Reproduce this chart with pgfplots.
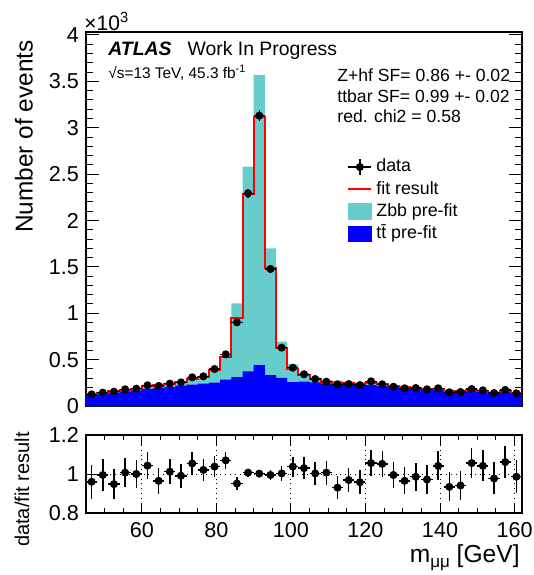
\documentclass[border=0pt]{standalone}
\usepackage{fontspec}
\setmainfont{Liberation Sans}
\usepackage{pgfplots}
\pgfplotsset{compat=1.18}
\usepackage{pgfplotstable}

\definecolor{zbb}{RGB}{102,204,204}
\definecolor{ttb}{RGB}{0,0,255}

% bin lower edge, post-fit total, pre-fit stack (Zbb+ttbar), ttbar pre-fit
\pgfplotstableread{
lo  fit  tot  tt
45  131  128  118
48  145  142  132
51  160  157  145
54  176  171  158
57  187  182  168
60  212  204  185
63  222  217  195
66  238  234  205
69  257  258  220
72  293  300  230
75  313  318  240
78  384  395  252
81  525  540  285
84  950  1107 310
87  2282 2580 374
90  3119 3569 442
93  1491 1700 334
96  630  693  302
99  400  450  258
102 335  352  262
105 290  305  255
108 264  280  245
111 253  273  237
114 247  262  237
117 240  252  230
120 248  258  226
123 232  240  215
126 212  225  205
129 200  212  195
132 197  205  190
135 186  196  182
138 183  190  178
141 162  172  162
144 161  170  160
147 172  175  165
150 163  170  160
153 145  157  148
156 161  160  150
159 140  150  142
162 140  150  142
}\hist

% bin centre, data, stat. error, data/fit, its error
\pgfplotstableread{
x     d    ed   r     er
46.5  126  11.2 0.960 0.086
49.5  144  12.0 0.995 0.083
52.5  155  12.4 0.948 0.078
55.5  180  13.4 1.007 0.076
58.5  187  13.7 1.000 0.073
61.5  223  14.9 1.043 0.070
64.5  216  14.7 0.965 0.066
67.5  241  15.5 1.012 0.065
70.5  255  16.0 0.991 0.062
73.5  309  17.6 1.054 0.060
76.5  320  17.9 1.021 0.057
79.5  399  20.0 1.038 0.052
82.5  557  23.6 1.070 0.045
85.5  902  30.0 0.951 0.032
88.5  2293 47.9 1.007 0.021
91.5  3130 55.9 1.002 0.018
94.5  1477 38.4 0.995 0.026
97.5  629  25.1 1.003 0.040
100.5 413  20.3 1.038 0.051
103.5 342  18.5 1.030 0.055
106.5 291  17.1 1.003 0.059
109.5 262  16.2 1.007 0.061
112.5 234  15.3 0.930 0.060
115.5 237  15.4 0.969 0.062
118.5 226  15.0 0.958 0.063
121.5 266  16.3 1.056 0.066
124.5 234  15.3 1.052 0.066
127.5 208  14.4 0.995 0.068
130.5 191  13.8 0.965 0.069
133.5 194  13.9 0.986 0.071
136.5 180  13.4 0.972 0.072
139.5 191  13.8 1.042 0.075
142.5 148  12.2 0.934 0.075
145.5 151  12.3 0.941 0.076
148.5 183  13.5 1.056 0.079
151.5 169  13.0 1.042 0.080
154.5 140  11.8 0.977 0.082
157.5 173  13.2 1.061 0.082
160.5 137  11.7 0.986 0.084
}\pts

\pgfplotsset{
  frame/.style={
    scale only axis, width=218pt,
    xmin=45, xmax=162,
    tick align=inside,
    axis line style={line width=0.6pt},
    every tick/.style={black, line width=0.5pt},
    /pgf/number format/assume math mode=true,
  },
}

\begin{document}
\begin{tikzpicture}
\useasboundingbox (-43pt,-84.5pt) rectangle (224pt,203pt);

\begin{axis}[frame,
  at={(0,0)}, anchor=south west,
  height=187pt,
  ymin=0, ymax=4032,
  xtick={60,80,...,160}, xticklabels={},
  minor xtick={50,55,...,160},
  xtick pos=bottom,
  ytick={0,500,...,4000},
  yticklabels={0,0.5,1,1.5,2,2.5,3,3.5,4},
  minor ytick={100,200,...,4000},
  ytick pos=both,
  major tick length=6.5pt, minor tick length=3.5pt,
  yticklabel style={font=\fontsize{10.8}{12}\selectfont},
  legend style={at={(rel axis cs:0.5986,0.667)}, anchor=north west,
    draw=none, fill=none, inner sep=0pt,
    font=\fontsize{8.9}{10}\selectfont,
    nodes={inner sep=1pt, text height=6.5pt, text depth=1.6pt},
    row sep=1pt, column sep=1pt},
  legend cell align=left,
]
\addplot[const plot, fill=zbb, draw=none, forget plot] table[x=lo, y=tot] {\hist} \closedcycle;
\addplot[const plot, fill=ttb, draw=none, forget plot] table[x=lo, y=tt] {\hist} \closedcycle;
\addplot[const plot, red, line width=1pt, forget plot] table[x=lo, y=fit] {\hist};
\addplot[black, only marks, mark=*, mark size=1.8pt, forget plot,
  error bars/.cd, x dir=both, x fixed=1.5, y dir=both, y explicit,
  error mark=none, error bar style={line width=0.75pt}]
  table[x=x, y=d, y error=ed] {\pts};

\addlegendimage{legend image code/.code={
  \draw[black, line width=0.75pt] (0pt,0pt) -- (11.5pt,0pt);
  \draw[black, line width=0.75pt] (5.75pt,-4pt) -- (5.75pt,4pt);
  \fill[black] (5.75pt,0pt) circle (1.8pt);}}
\addlegendentry{data}
\addlegendimage{legend image code/.code={
  \draw[red, line width=1pt] (0pt,0pt) -- (11.5pt,0pt);}}
\addlegendentry{fit result}
\addlegendimage{legend image code/.code={
  \fill[zbb] (0pt,-3.8pt) rectangle (11.5pt,3.8pt);}}
\addlegendentry{Zbb pre-fit}
\addlegendimage{legend image code/.code={
  \fill[ttb] (0pt,-3.8pt) rectangle (11.5pt,3.8pt);}}
\addlegendentry{t\=t pre-fit}
\end{axis}

\begin{axis}[frame,
  at={(0,-14.5pt)}, anchor=north west,
  height=39pt,
  ymin=0.8, ymax=1.2,
  xtick={60,80,...,160},
  minor xtick={50,55,...,160},
  xtick pos=both,
  ytick={0.8,1.2},
  extra y ticks={1},
  extra y tick style={grid=major},
  ytick pos=left,
  xmajorgrids,
  major grid style={black, dotted, line width=0.5pt},
  major tick length=5pt, minor tick length=2.5pt,
  tick label style={font=\fontsize{10.8}{12}\selectfont},
  xticklabel style={yshift=-1pt},
]
\addplot[black, only marks, mark=*, mark size=1.8pt,
  error bars/.cd, x dir=both, x fixed=1.5, y dir=both, y explicit,
  error mark=none, error bar style={line width=0.75pt}]
  table[x=x, y=r, y error=er] {\pts};
\end{axis}

% labels and annotations
\node[anchor=base west, inner sep=0pt, font=\fontsize{10.5}{12}\selectfont] at (-1pt,188pt) {×10\textsuperscript{3}};
\node[anchor=east, rotate=90, inner sep=0pt, font=\fontsize{12.2}{14}\selectfont] at (-31pt,183pt) {Number of events};
\node[anchor=east, rotate=90, inner sep=0pt, font=\fontsize{10}{12}\selectfont] at (-32pt,-13pt) {data/fit result};
\node[anchor=base east, inner sep=0pt, font=\fontsize{12.3}{14}\selectfont] at (217pt,-78pt) {m\raisebox{-0.45ex}{\fontsize{8.5}{9}\selectfont μμ} [GeV]};

\node[anchor=base west, inner sep=0pt, font=\fontsize{9.7}{11}\selectfont] at (11pt,175.5pt) {\textbf{\textit{ATLAS}}\hspace{8pt}Work In Progress};
\node[anchor=base west, inner sep=0pt, font=\fontsize{7.7}{9}\selectfont] at (11pt,164pt) {√s=13 TeV, 45.3 fb\textsuperscript{-1}};

\node[anchor=base west, inner sep=0pt, font=\fontsize{8.8}{10}\selectfont] at (125.5pt,162.5pt) {Z+hf SF= 0.86 +- 0.02};
\node[anchor=base west, inner sep=0pt, font=\fontsize{8.8}{10}\selectfont] at (125.5pt,152pt) {ttbar SF= 0.99 +- 0.02};
\node[anchor=base west, inner sep=0pt, font=\fontsize{8.8}{10}\selectfont] at (125.5pt,142pt) {red. chi2 = 0.58};
\end{tikzpicture}
\end{document}
